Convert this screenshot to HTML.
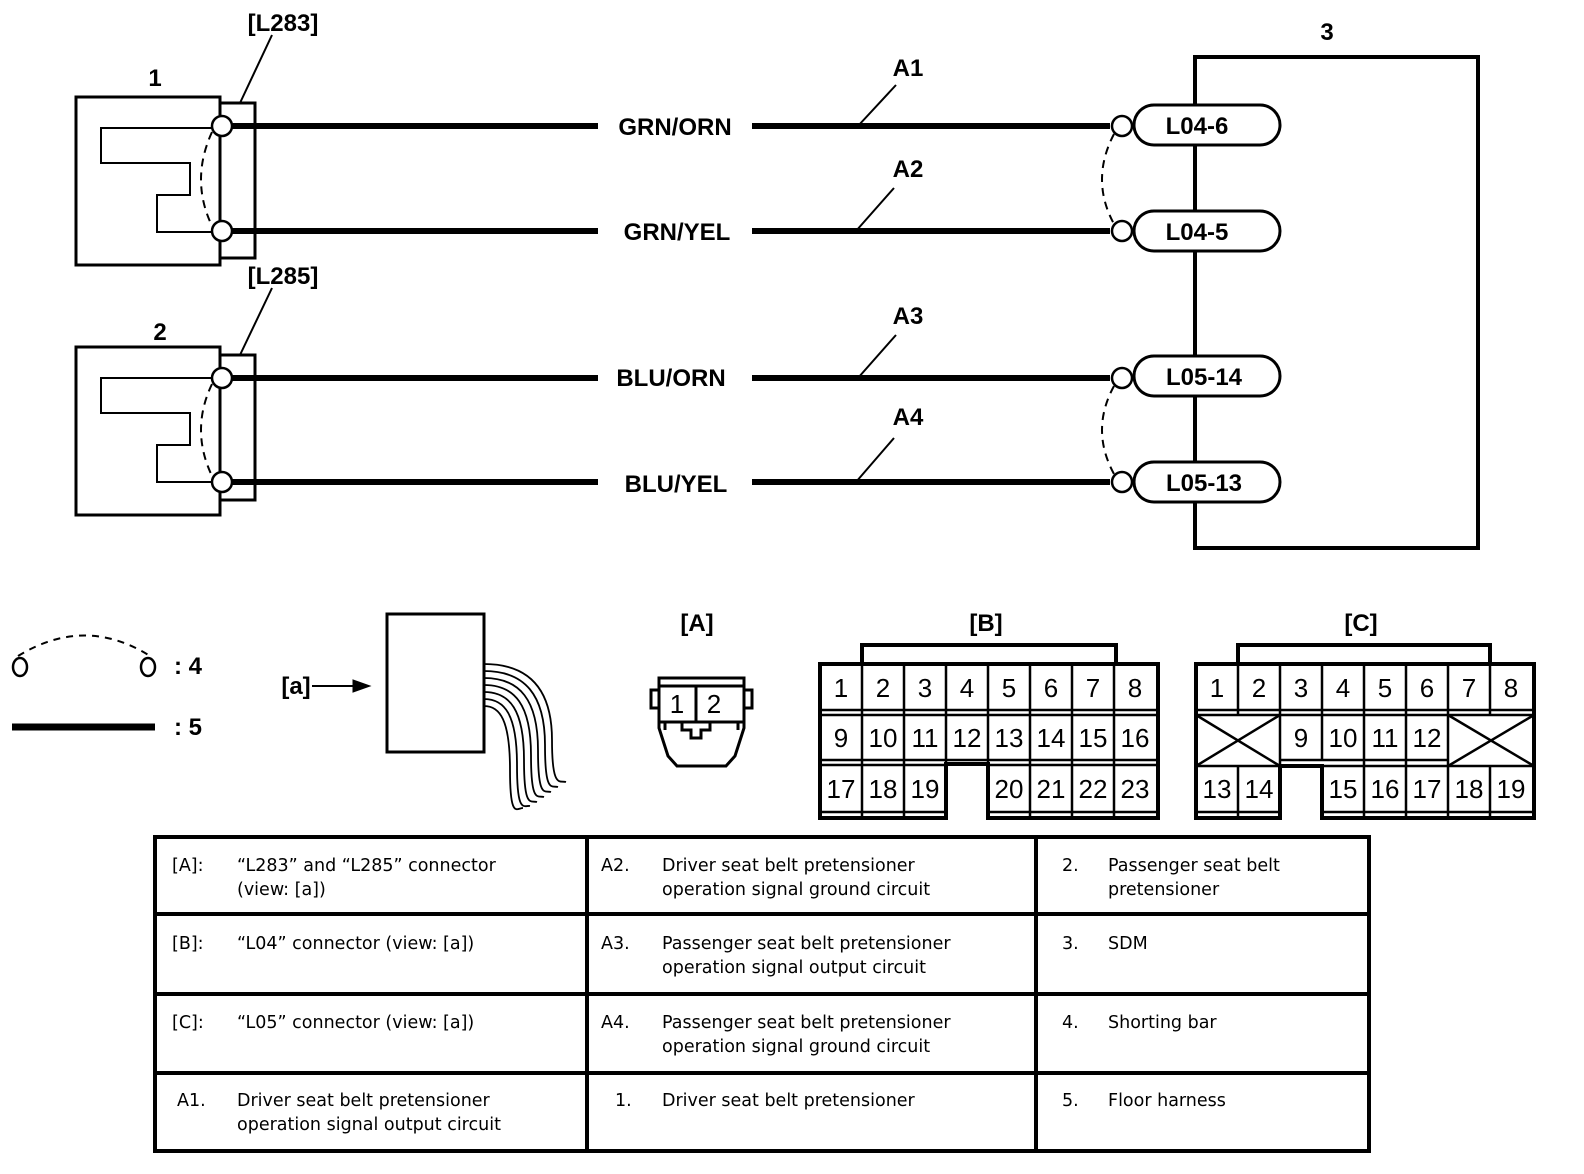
<!DOCTYPE html>
<html><head><meta charset="utf-8"><style>
html,body{margin:0;padding:0;background:#fff;overflow:hidden;width:1584px;height:1174px}
svg{display:block;position:absolute;left:0;top:0}
.b{font-family:"Liberation Sans",Arial,sans-serif;font-weight:bold}
.t{font-family:"DejaVu Sans",sans-serif;font-size:17.5px}
.n{font-family:"Liberation Sans",sans-serif;font-size:26px;text-anchor:middle}
</style></head><body>
<svg width="1584" height="1174" viewBox="0 0 1584 1174" xmlns="http://www.w3.org/2000/svg">
<g fill="none" stroke="#000">
<rect x="76" y="97" width="144" height="168" stroke-width="3"/>
<path d="M220 128 H101 V163 H190 V195 H157 V232 H220" stroke-width="2"/>
<rect x="220" y="103" width="35" height="155" stroke-width="3"/>
<path d="M212 132 Q190 180 212 226" stroke-width="2" stroke-dasharray="8,6"/>
<rect x="76" y="347" width="144" height="168" stroke-width="3"/>
<path d="M220 378 H101 V413 H190 V445 H157 V482 H220" stroke-width="2"/>
<rect x="220" y="355" width="35" height="145" stroke-width="3"/>
<path d="M212 384 Q190 430 212 476" stroke-width="2" stroke-dasharray="8,6"/>
<g stroke-width="6">
<path d="M232 126H598M752 126H1110M232 231H598M752 231H1110M232 378H598M752 378H1110M232 482H598M752 482H1110"/>
</g>
<g stroke-width="2">
<path d="M240 103L272 35M240 355L272 288M858 126L896 85M856 231L894 188M858 378L896 335M856 482L894 438"/>
</g>
<rect x="1195" y="57" width="283" height="491" stroke-width="4"/>
<g stroke-width="3" fill="#fff">
<rect x="1134" y="105" width="146" height="40" rx="20"/>
<rect x="1134" y="211" width="146" height="40" rx="20"/>
<rect x="1134" y="356" width="146" height="40" rx="20"/>
<rect x="1134" y="462" width="146" height="40" rx="20"/>
</g>
<path d="M1195 57V105M1195 145V211M1195 251V356M1195 396V462M1195 502V548" stroke-width="4"/>
<path d="M1114 134 Q1090 180 1114 224" stroke-width="2" stroke-dasharray="8,6"/>
<path d="M1114 386 Q1090 430 1114 474" stroke-width="2" stroke-dasharray="8,6"/>
<g stroke-width="2.5" fill="#fff">
<circle cx="222" cy="126" r="10"/><circle cx="222" cy="231" r="10"/>
<circle cx="222" cy="378" r="10"/><circle cx="222" cy="482" r="10"/>
<circle cx="1122" cy="126" r="10"/><circle cx="1122" cy="231" r="10"/>
<circle cx="1122" cy="378" r="10"/><circle cx="1122" cy="482" r="10"/>
</g>
<path d="M18 656 Q85 615 150 656" stroke-width="2" stroke-dasharray="7,6"/>
<ellipse cx="20" cy="667" rx="7" ry="9" stroke-width="2.5"/>
<ellipse cx="148" cy="667" rx="7" ry="9" stroke-width="2.5"/>
<path d="M12 727H155" stroke-width="7"/>
<path d="M312 686H355" stroke-width="2"/>
<path d="M353 680L370 686L353 692Z" fill="#000"/>
<rect x="387" y="614" width="97" height="138" stroke-width="3"/>
<g stroke-width="1.8">
<path d="M484 664 C530 664 552 690 552 740 S560 780 566 782"/>
<path d="M484 671 C525 671 545 695 545 745 S552 785 558 787"/>
<path d="M484 678 C520 678 538 700 538 750 S545 790 551 792"/>
<path d="M484 685 C515 685 531 705 531 755 S538 795 544 797"/>
<path d="M484 692 C510 692 524 710 524 760 S531 800 537 802"/>
<path d="M484 699 C505 699 517 715 517 765 S524 805 530 806"/>
<path d="M484 706 C500 706 510 720 510 770 S517 808 523 808"/>
</g>
<g stroke-width="3">
<path d="M659 678H744V728L735 756L726 766H677L668 756L659 728Z"/>
<path d="M659 686H744M659 722H744M696 686V722"/>
<rect x="651" y="690" width="8" height="18"/><rect x="744" y="690" width="8" height="18"/>
<path d="M665 722V730M738 722V730M682 722V730H691V738H701V730H710V722"/>
</g>
<g stroke-width="4">
<path d="M862 664V645H1116V664"/>
<path d="M820 664H1158V818H988V764H946V818H820Z"/>
</g>
<g stroke-width="2.5">
<path d="M820 710H1158M820 715H1158M820 760H1158M820 765H946M988 765H1158M820 812H946M988 812H1158"/>
<path d="M862 664V818M904 664V818M946 664V764M988 664V764M1030 664V818M1072 664V818M1114 664V818"/>
</g>
<g stroke-width="4">
<path d="M1238 664V645H1490V664"/>
<path d="M1196 664H1534V818H1322V766H1280V818H1196Z"/>
</g>
<g stroke-width="2.5">
<path d="M1196 710H1534M1196 715H1534M1280 760H1448M1280 766H1322M1196 766H1280M1322 766H1534M1196 812H1280M1322 812H1534"/>
<path d="M1238 664V715M1280 664V818M1322 664V760M1364 664V818M1406 664V818M1448 664V818M1490 664V715M1238 766V818M1490 766V818"/>
<path d="M1196 715L1280 766M1280 715L1196 766M1448 715L1534 766M1534 715L1448 766"/>
</g>
<rect x="155" y="837" width="1214" height="314" stroke-width="4"/>
<path d="M155 914H1369M155 994H1369M155 1073H1369M587 837V1151M1036 837V1151" stroke-width="4"/>
</g>
<g class="b" font-size="24" text-anchor="middle">
<text x="283" y="31">[L283]</text><text x="155" y="86">1</text>
<text x="283" y="284">[L285]</text><text x="160" y="340">2</text>
<text x="1327" y="40">3</text>
<text x="908" y="76">A1</text><text x="908" y="177">A2</text>
<text x="908" y="324">A3</text><text x="908" y="425">A4</text>
<text x="675" y="135">GRN/ORN</text><text x="677" y="240">GRN/YEL</text>
<text x="671" y="386">BLU/ORN</text><text x="676" y="492">BLU/YEL</text>
<text x="1197" y="134">L04-6</text><text x="1197" y="240">L04-5</text>
<text x="1204" y="385">L05-14</text><text x="1204" y="491">L05-13</text>
<text x="697" y="631">[A]</text><text x="986" y="631">[B]</text><text x="1361" y="631">[C]</text>
<text x="296" y="694">[a]</text>
</g>
<g class="b" font-size="24"><text x="174" y="674">: 4</text><text x="174" y="735">: 5</text></g>
<g class="n">
<text x="677" y="713">1</text><text x="714" y="713">2</text>
<text x="841" y="697">1</text><text x="883" y="697">2</text><text x="925" y="697">3</text><text x="967" y="697">4</text><text x="1009" y="697">5</text><text x="1051" y="697">6</text><text x="1093" y="697">7</text><text x="1135" y="697">8</text>
<text x="841" y="747">9</text><text x="883" y="747">10</text><text x="925" y="747">11</text><text x="967" y="747">12</text><text x="1009" y="747">13</text><text x="1051" y="747">14</text><text x="1093" y="747">15</text><text x="1135" y="747">16</text>
<text x="841" y="798">17</text><text x="883" y="798">18</text><text x="925" y="798">19</text><text x="1009" y="798">20</text><text x="1051" y="798">21</text><text x="1093" y="798">22</text><text x="1135" y="798">23</text>
<text x="1217" y="697">1</text><text x="1259" y="697">2</text><text x="1301" y="697">3</text><text x="1343" y="697">4</text><text x="1385" y="697">5</text><text x="1427" y="697">6</text><text x="1469" y="697">7</text><text x="1511" y="697">8</text>
<text x="1301" y="747">9</text><text x="1343" y="747">10</text><text x="1385" y="747">11</text><text x="1427" y="747">12</text>
<text x="1217" y="798">13</text><text x="1259" y="798">14</text><text x="1343" y="798">15</text><text x="1385" y="798">16</text><text x="1427" y="798">17</text><text x="1469" y="798">18</text><text x="1511" y="798">19</text>
</g>
<g class="t">
<text x="172" y="871">[A]:</text><text x="237" y="871">“L283” and “L285” connector</text><text x="237" y="895">(view: [a])</text>
<text x="172" y="949">[B]:</text><text x="237" y="949">“L04” connector (view: [a])</text>
<text x="172" y="1028">[C]:</text><text x="237" y="1028">“L05” connector (view: [a])</text>
<text x="177" y="1106">A1.</text><text x="237" y="1106">Driver seat belt pretensioner</text><text x="237" y="1130">operation signal output circuit</text>
<text x="601" y="871">A2.</text><text x="662" y="871">Driver seat belt pretensioner</text><text x="662" y="895">operation signal ground circuit</text>
<text x="601" y="949">A3.</text><text x="662" y="949">Passenger seat belt pretensioner</text><text x="662" y="973">operation signal output circuit</text>
<text x="601" y="1028">A4.</text><text x="662" y="1028">Passenger seat belt pretensioner</text><text x="662" y="1052">operation signal ground circuit</text>
<text x="615" y="1106">1.</text><text x="662" y="1106">Driver seat belt pretensioner</text>
<text x="1062" y="871">2.</text><text x="1108" y="871">Passenger seat belt</text><text x="1108" y="895">pretensioner</text>
<text x="1062" y="949">3.</text><text x="1108" y="949">SDM</text>
<text x="1062" y="1028">4.</text><text x="1108" y="1028">Shorting bar</text>
<text x="1062" y="1106">5.</text><text x="1108" y="1106">Floor harness</text>
</g>
</svg>
</body></html>
